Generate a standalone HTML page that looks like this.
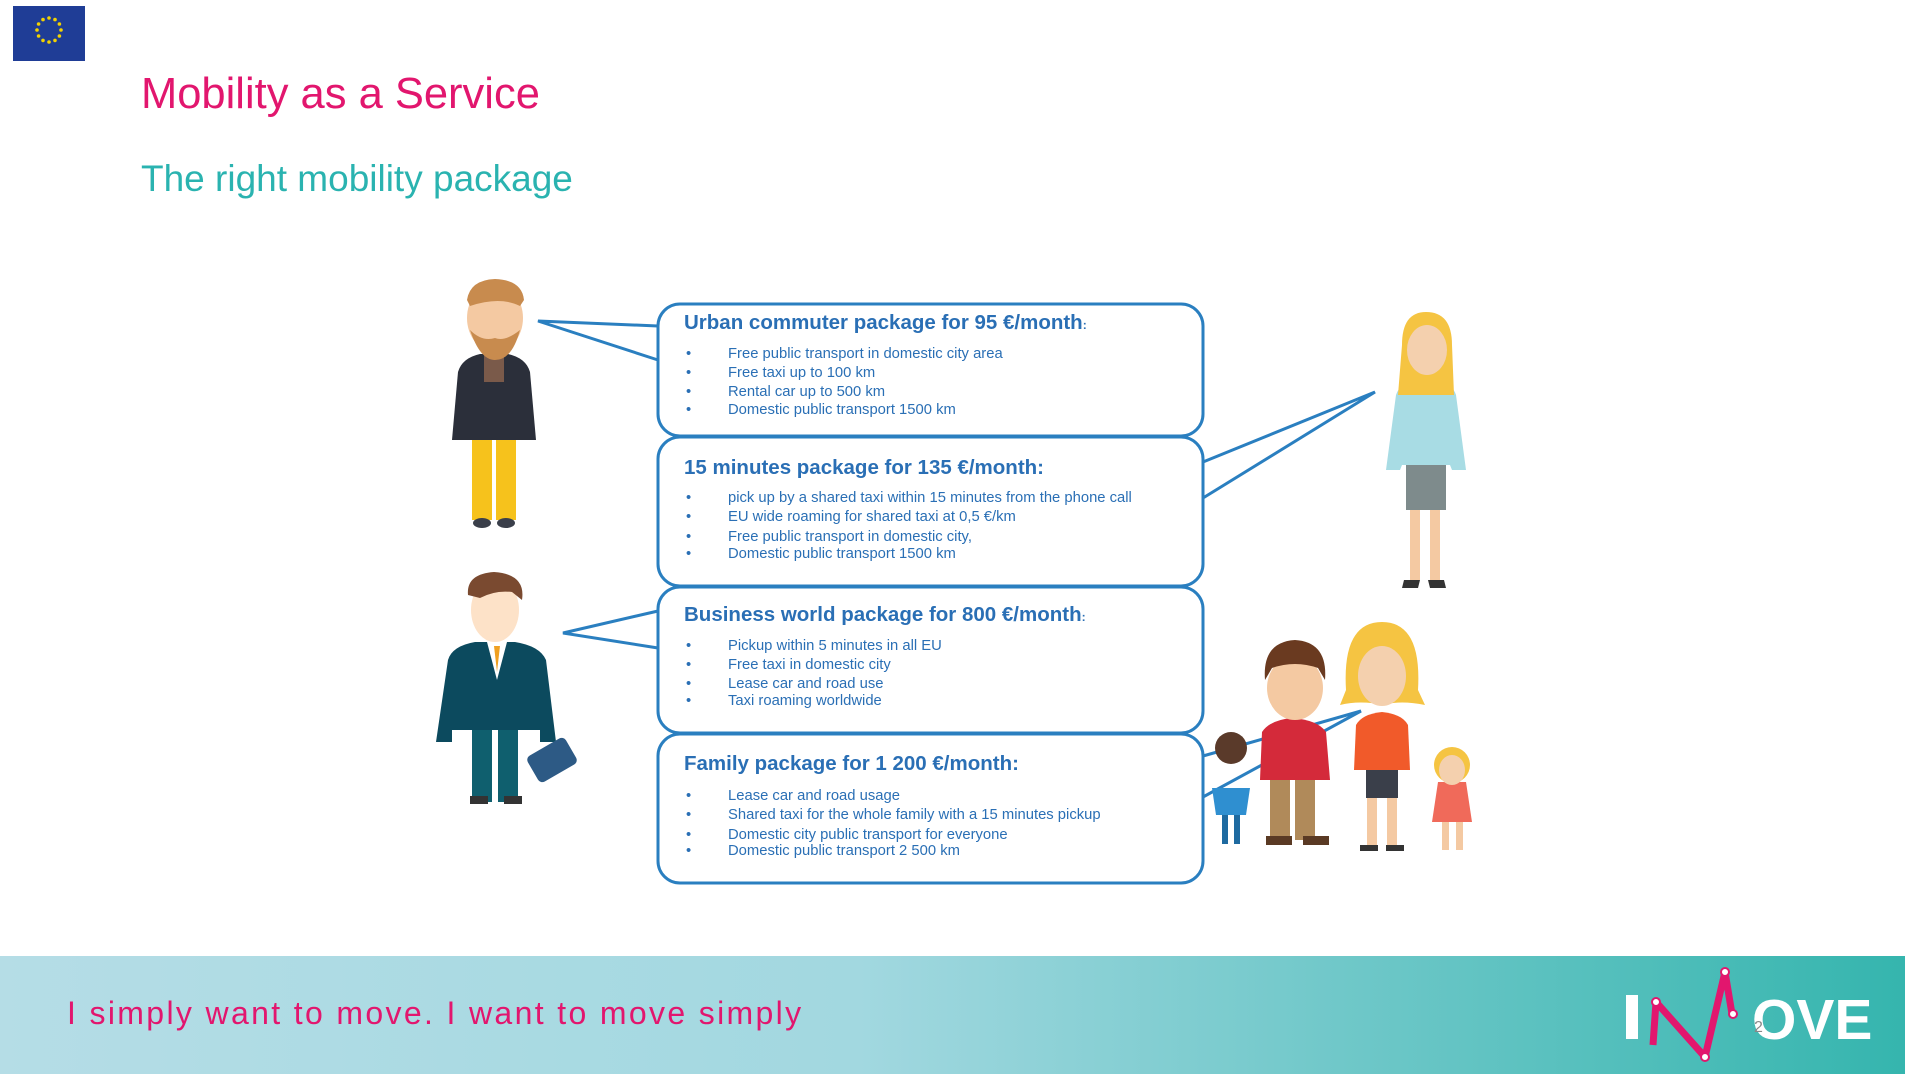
<!DOCTYPE html>
<html><head><meta charset="utf-8"><style>
html,body{margin:0;padding:0;background:#fff;width:1905px;height:1074px;overflow:hidden}
svg{display:block}
text{font-family:"Liberation Sans",sans-serif}
</style></head><body>
<svg width="1905" height="1074" viewBox="0 0 1905 1074">
<defs>
<linearGradient id="ft" x1="0" x2="1" y1="0" y2="0">
<stop offset="0" stop-color="#b5dde6"/><stop offset="0.45" stop-color="#a2d8e0"/><stop offset="1" stop-color="#35b5ae"/>
</linearGradient>
</defs>
<rect x="13" y="6" width="72" height="55" fill="#1f3d96"/>
<g fill="#f2d200">
<circle cx="49" cy="18" r="1.8"/><circle cx="55" cy="19.6" r="1.8"/><circle cx="59.4" cy="24" r="1.8"/><circle cx="61" cy="30" r="1.8"/><circle cx="59.4" cy="36" r="1.8"/><circle cx="55" cy="40.4" r="1.8"/><circle cx="49" cy="42" r="1.8"/><circle cx="43" cy="40.4" r="1.8"/><circle cx="38.6" cy="36" r="1.8"/><circle cx="37" cy="30" r="1.8"/><circle cx="38.6" cy="24" r="1.8"/><circle cx="43" cy="19.6" r="1.8"/>
</g>
<text x="141" y="108" font-size="43.5" fill="#e2166e">Mobility as a Service</text>
<text x="141" y="191" font-size="37" fill="#2ab3b0">The right mobility package</text>

<g fill="#fff" stroke="#2a7fc0" stroke-width="3">
<rect x="658" y="304" width="545" height="132" rx="22"/>
<rect x="658" y="437" width="545" height="149" rx="22"/>
<rect x="658" y="587" width="545" height="146" rx="22"/>
<rect x="658" y="734" width="545" height="149" rx="22"/>
</g>
<g fill="none" stroke="#2a7fc0" stroke-width="3">
<polyline points="658,326 538,321 658,360"/>
<polyline points="1203,462 1375,392 1203,498"/>
<polyline points="658,611 563,633 658,648"/>
<polyline points="1203,756 1361,711 1203,797"/>
</g>
<g fill="#2a6fb5">
<text x="684" y="329" font-size="20.5" font-weight="bold">Urban commuter package for 95 €/month<tspan font-size="12">:</tspan></text>
<text x="684" y="474" font-size="20.5" font-weight="bold">15 minutes package for 135 €/month:</text>
<text x="684" y="621" font-size="20.5" font-weight="bold">Business world package for 800 €/month<tspan font-size="12">:</tspan></text>
<text x="684" y="770" font-size="20.5" font-weight="bold">Family package for 1 200 €/month:</text>
</g>
<g fill="#2a6fb5" font-size="14.8">
<text x="686" y="358">•</text><text x="728" y="358">Free public transport in domestic city area</text>
<text x="686" y="377">•</text><text x="728" y="377">Free taxi up to 100 km</text>
<text x="686" y="396">•</text><text x="728" y="396">Rental car up to 500 km</text>
<text x="686" y="414">•</text><text x="728" y="414">Domestic public transport 1500 km</text>
<text x="686" y="502">•</text><text x="728" y="502">pick up by a shared taxi within 15 minutes from the phone call</text>
<text x="686" y="521">•</text><text x="728" y="521">EU wide roaming for shared taxi at 0,5 €/km</text>
<text x="686" y="541">•</text><text x="728" y="541">Free public transport in domestic city,</text>
<text x="686" y="558">•</text><text x="728" y="558">Domestic public transport 1500 km</text>
<text x="686" y="650">•</text><text x="728" y="650">Pickup within 5 minutes in all EU</text>
<text x="686" y="669">•</text><text x="728" y="669">Free taxi  in domestic city</text>
<text x="686" y="688">•</text><text x="728" y="688">Lease car and road use</text>
<text x="686" y="705">•</text><text x="728" y="705">Taxi roaming worldwide</text>
<text x="686" y="800">•</text><text x="728" y="800">Lease car and road usage</text>
<text x="686" y="819">•</text><text x="728" y="819">Shared taxi for the whole family with a 15 minutes pickup</text>
<text x="686" y="839">•</text><text x="728" y="839">Domestic city public transport for everyone</text>
<text x="686" y="855">•</text><text x="728" y="855">Domestic public transport 2 500 km</text>
</g>

<g>
<rect x="472" y="438" width="20" height="82" fill="#f6c21c"/><rect x="496" y="438" width="20" height="82" fill="#f6c21c"/>
<ellipse cx="482" cy="523" rx="9" ry="5" fill="#3a3f4a"/><ellipse cx="506" cy="523" rx="9" ry="5" fill="#3a3f4a"/>
<path d="M458 372 Q462 358 480 354 L508 354 Q526 358 530 372 L536 440 L452 440 Z" fill="#2b2f3a"/>
<rect x="484" y="352" width="20" height="30" fill="#7a5a4a"/>
<ellipse cx="495" cy="318" rx="28" ry="34" fill="#f4c9a2"/>
<path d="M467 300 Q470 280 495 279 Q522 280 524 300 L520 306 Q500 296 470 306 Z" fill="#c88b4e"/>
<path d="M470 330 Q480 360 495 360 Q512 360 520 330 Q505 342 495 338 Q482 342 470 330Z" fill="#c88b4e"/>
</g>
<g>
<rect x="472" y="730" width="20" height="72" fill="#0f5f6e"/><rect x="498" y="730" width="20" height="72" fill="#0f5f6e"/>
<rect x="470" y="796" width="18" height="8" fill="#333"/><rect x="504" y="796" width="18" height="8" fill="#333"/>
<path d="M448 660 Q452 646 475 642 L515 642 Q540 646 546 660 L556 742 L540 742 L540 730 L452 730 L452 742 L436 742 Z" fill="#0c4a5e"/>
<path d="M487 642 L497 680 L507 642 Z" fill="#fff"/><path d="M494 646 L497 672 L500 646Z" fill="#f0a020"/>
<rect x="530" y="745" width="44" height="30" rx="5" fill="#2d5a85" transform="rotate(-30 552 760)"/>
<ellipse cx="495" cy="610" rx="24" ry="32" fill="#fde2c8"/>
<path d="M468 595 Q466 574 494 572 Q526 574 522 600 L512 592 Q495 590 480 598Z" fill="#7a4a30"/>
</g>
<g>
<rect x="1410" y="500" width="10" height="80" fill="#f4c9a2"/><rect x="1430" y="500" width="10" height="80" fill="#f4c9a2"/>
<path d="M1404 580 L1420 580 L1418 588 L1402 588Z M1428 580 L1444 580 L1446 588 L1430 588Z" fill="#333"/>
<rect x="1406" y="460" width="40" height="50" fill="#7e8b8c"/>
<path d="M1396 395 Q1400 382 1420 380 L1432 380 Q1452 382 1456 395 L1466 470 L1452 470 L1450 465 L1402 465 L1400 470 L1386 470 Z" fill="#a8dce4"/>
<path d="M1402 345 Q1402 312 1426 312 Q1452 312 1452 345 L1454 395 L1398 395Z" fill="#f5c442"/>
<ellipse cx="1427" cy="350" rx="20" ry="25" fill="#f4d0ae"/>
</g>
<g>
<rect x="1270" y="760" width="20" height="80" fill="#b08a5a"/><rect x="1295" y="760" width="20" height="80" fill="#b08a5a"/>
<rect x="1266" y="836" width="26" height="9" fill="#5a3a24"/><rect x="1303" y="836" width="26" height="9" fill="#5a3a24"/>
<path d="M1262 732 Q1270 720 1292 718 Q1318 720 1326 732 L1330 780 L1260 780 Z" fill="#d42a3a"/>
<ellipse cx="1295" cy="688" rx="28" ry="32" fill="#f4c9a2"/>
<path d="M1265 680 Q1262 642 1295 640 Q1328 642 1325 680 L1318 668 Q1295 660 1272 668Z" fill="#6a3a20"/>
<rect x="1367" y="790" width="10" height="55" fill="#f4c9a2"/><rect x="1387" y="790" width="10" height="55" fill="#f4c9a2"/>
<path d="M1360 845 L1378 845 L1378 851 L1360 851Z M1386 845 L1404 845 L1404 851 L1386 851Z" fill="#333"/>
<rect x="1366" y="760" width="32" height="38" fill="#3a3f4a"/>
<path d="M1356 725 Q1362 714 1382 712 Q1402 714 1408 725 L1410 770 L1354 770Z" fill="#f15a2a"/>
<path d="M1346 690 Q1342 622 1382 622 Q1422 622 1418 690 L1425 705 Q1400 700 1384 705 Q1360 700 1340 705Z" fill="#f5c442"/>
<ellipse cx="1382" cy="676" rx="24" ry="30" fill="#f4d0ae"/>
<rect x="1442" y="810" width="7" height="40" fill="#f4c9a2"/><rect x="1456" y="810" width="7" height="40" fill="#f4c9a2"/>
<path d="M1438 782 L1466 782 L1472 822 L1432 822Z" fill="#f06a5a"/>
<circle cx="1452" cy="765" r="18" fill="#f5c442"/><ellipse cx="1452" cy="770" rx="13" ry="15" fill="#f4d0ae"/>
<rect x="1222" y="810" width="6" height="34" fill="#1e6aa0"/><rect x="1234" y="810" width="6" height="34" fill="#1e6aa0"/>
<path d="M1212 788 L1250 788 L1246 815 L1216 815Z" fill="#2f8fd0"/>
<circle cx="1231" cy="748" r="16" fill="#5a3a2a"/>
</g>

<rect x="0" y="956" width="1905" height="118" fill="url(#ft)"/>
<text x="67" y="1024" font-size="32" letter-spacing="2.35" fill="#e2166e">I simply want to move. I want to move simply</text>
<g>
<rect x="1626" y="995" width="12" height="44" fill="#fff"/>
<polyline points="1653,1045 1656,1002 1705,1057 1725,972 1732,1014" fill="none" stroke="#e2166e" stroke-width="7" stroke-linejoin="round"/>
<circle cx="1656" cy="1002" r="4" fill="#fff" stroke="#e2166e" stroke-width="2"/>
<circle cx="1725" cy="972" r="4" fill="#fff" stroke="#e2166e" stroke-width="2"/>
<circle cx="1733" cy="1014" r="4" fill="#fff" stroke="#e2166e" stroke-width="2"/>
<circle cx="1705" cy="1057" r="4" fill="#fff" stroke="#e2166e" stroke-width="2"/>
<text x="1752" y="1039" font-size="57" font-weight="bold" fill="#fff">OVE</text>
<text x="1754" y="1032" font-size="16" fill="#888">2</text>
</g>
</svg>
</body></html>
